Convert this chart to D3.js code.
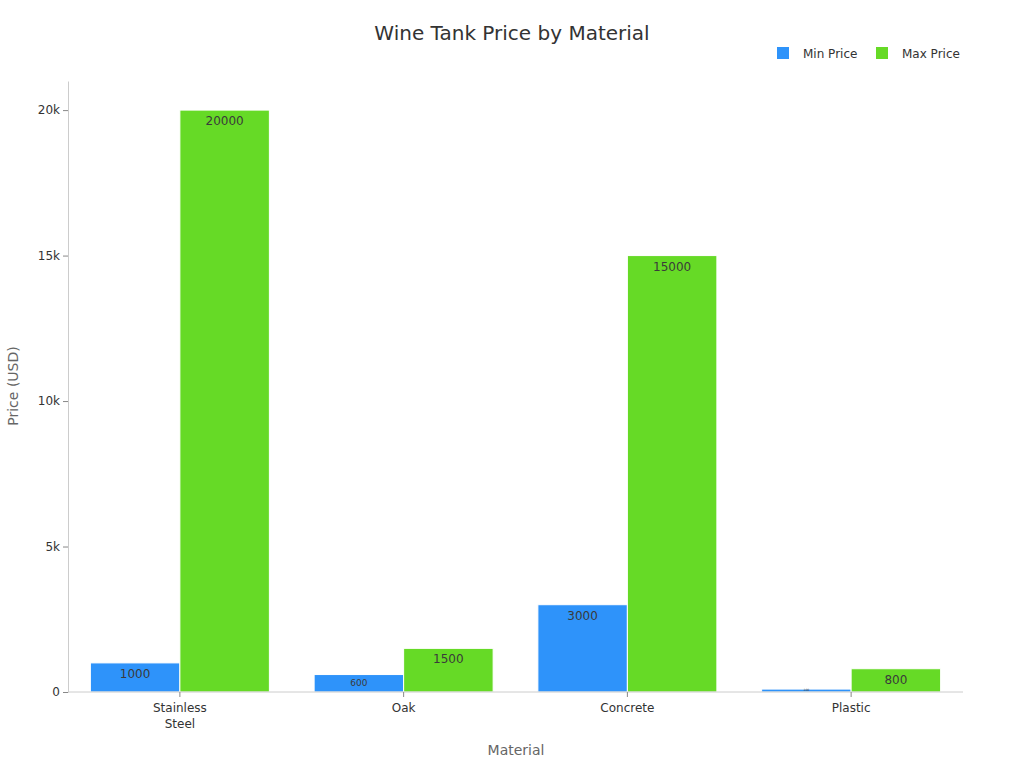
<!DOCTYPE html>
<html>
<head>
<meta charset="utf-8">
<script src="https://cdn.jsdelivr.net/npm/d3@7"></script>
<style>
body { margin: 0; background: #fff; font-family: "DejaVu Sans", sans-serif; }
</style>
</head>
<body>
<div id="chart"></div>
<script>
var materials = ['Stainless Steel', 'Oak', 'Concrete', 'Plastic'];
var minPrices = [1000, 600, 3000, 100];
var maxPrices = [20000, 1500, 15000, 800];
var seriesNames = ['Min Price', 'Max Price'];
var yTicks = [0, 5000, 10000, 15000, 20000];

function createChart(){
    const width = 1024;
    const height = 768;
    const left = 68, right = 963, top = 81, bottom = 692;
    const colors = ['#2E93FA', '#66DA26'];

    let svg = d3.select('#chart')
        .append('svg')
        .attr('width', width)
        .attr('height', height)
        .style('font-family', '"DejaVu Sans", sans-serif');

    svg.append('text')
        .attr('x', 512)
        .attr('y', 40)
        .attr('text-anchor', 'middle')
        .attr('font-size', 20)
        .attr('fill', '#333')
        .text('Wine Tank Price by Material');

    const xScale = d3.scaleBand()
        .domain(materials)
        .range([left, right])
        .paddingInner(0.2)
        .paddingOuter(0.1);

    const xSub = d3.scaleBand()
        .domain(seriesNames)
        .range([0, xScale.bandwidth()]);

    const yScale = d3.scaleLinear()
        .domain([0, 21000])
        .range([bottom, top]);

    // y axis
    let yAxis = svg.append('g')
        .attr('transform', `translate(${left},0)`)
        .call(d3.axisLeft(yScale).tickValues(yTicks)
            .tickFormat((d) => d === 0 ? '0' : (d / 1000) + 'k')
            .tickSize(5).tickSizeOuter(0));
    yAxis.select('.domain').attr('stroke', '#ccc');
    yAxis.selectAll('.tick line').attr('stroke', '#888');
    yAxis.selectAll('.tick text').attr('fill', '#333').attr('font-size', 12)
        .attr('font-family', '"DejaVu Sans", sans-serif');

    // bars
    const data = [];
    materials.forEach(function(m, i){
        data.push({ material: m, series: seriesNames[0], value: minPrices[i], idx: 0 });
        data.push({ material: m, series: seriesNames[1], value: maxPrices[i], idx: 1 });
    });

    svg.selectAll('rect.bar')
        .data(data)
        .enter()
        .append('rect')
        .attr('class', 'bar')
        .attr('x', (d) => xScale(d.material) + xSub(d.series))
        .attr('y', (d) => yScale(d.value))
        .attr('width', xSub.bandwidth())
        .attr('height', (d) => bottom - yScale(d.value))
        .attr('fill', (d) => colors[d.idx])
        .attr('stroke', '#fff')
        .attr('stroke-width', 1);

    // value labels
    svg.selectAll('text.val')
        .data(data)
        .enter()
        .append('text')
        .attr('class', 'val')
        .attr('x', (d) => xScale(d.material) + xSub(d.series) + xSub.bandwidth() / 2)
        .attr('y', function(d){
            const h = bottom - yScale(d.value);
            if (h < 8) return bottom - 1;
            if (h < 20) return yScale(d.value) + h / 2 + 3;
            return yScale(d.value) + 15;
        })
        .attr('text-anchor', 'middle')
        .attr('font-size', function(d){
            const h = bottom - yScale(d.value);
            if (h < 8) return 3;
            if (h < 20) return 9;
            return 12;
        })
        .attr('fill', '#3a3a3a')
        .text((d) => d.value);

    // x axis
    let xAxis = svg.append('g')
        .attr('transform', `translate(0,${bottom})`)
        .call(d3.axisBottom(xScale).tickSize(5).tickSizeOuter(0));
    xAxis.select('.domain').attr('stroke', '#ccc')
        .attr('d', `M${left},0H${right}`);
    xAxis.selectAll('.tick line').attr('stroke', '#888');
    xAxis.selectAll('.tick text').remove();
    xAxis.selectAll('.tick').each(function(d){
        const words = d.split(' ');
        let t = d3.select(this).append('text')
            .attr('fill', '#333')
            .attr('font-size', 12)
            .attr('font-family', '"DejaVu Sans", sans-serif')
            .attr('text-anchor', 'middle');
        words.forEach(function(w, i){
            t.append('tspan').attr('x', 0).attr('y', 20 + i * 16).text(w);
        });
    });

    // axis titles
    svg.append('text')
        .attr('x', 516)
        .attr('y', 755)
        .attr('text-anchor', 'middle')
        .attr('font-size', 14)
        .attr('fill', '#666')
        .text('Material');

    svg.append('text')
        .attr('transform', 'translate(18,386) rotate(-90)')
        .attr('text-anchor', 'middle')
        .attr('font-size', 14)
        .attr('fill', '#666')
        .text('Price (USD)');

    // legend
    const legendX = [777, 876];
    let legend = svg.selectAll('g.legend')
        .data(seriesNames)
        .enter()
        .append('g')
        .attr('class', 'legend')
        .attr('transform', (d, i) => `translate(${legendX[i]},47)`);
    legend.append('rect')
        .attr('width', 12)
        .attr('height', 12)
        .attr('fill', (d, i) => colors[i]);
    legend.append('text')
        .attr('x', 26)
        .attr('y', 11)
        .attr('font-size', 12)
        .attr('fill', '#333')
        .text((d) => d);
}

createChart();
</script>
</body>
</html>
